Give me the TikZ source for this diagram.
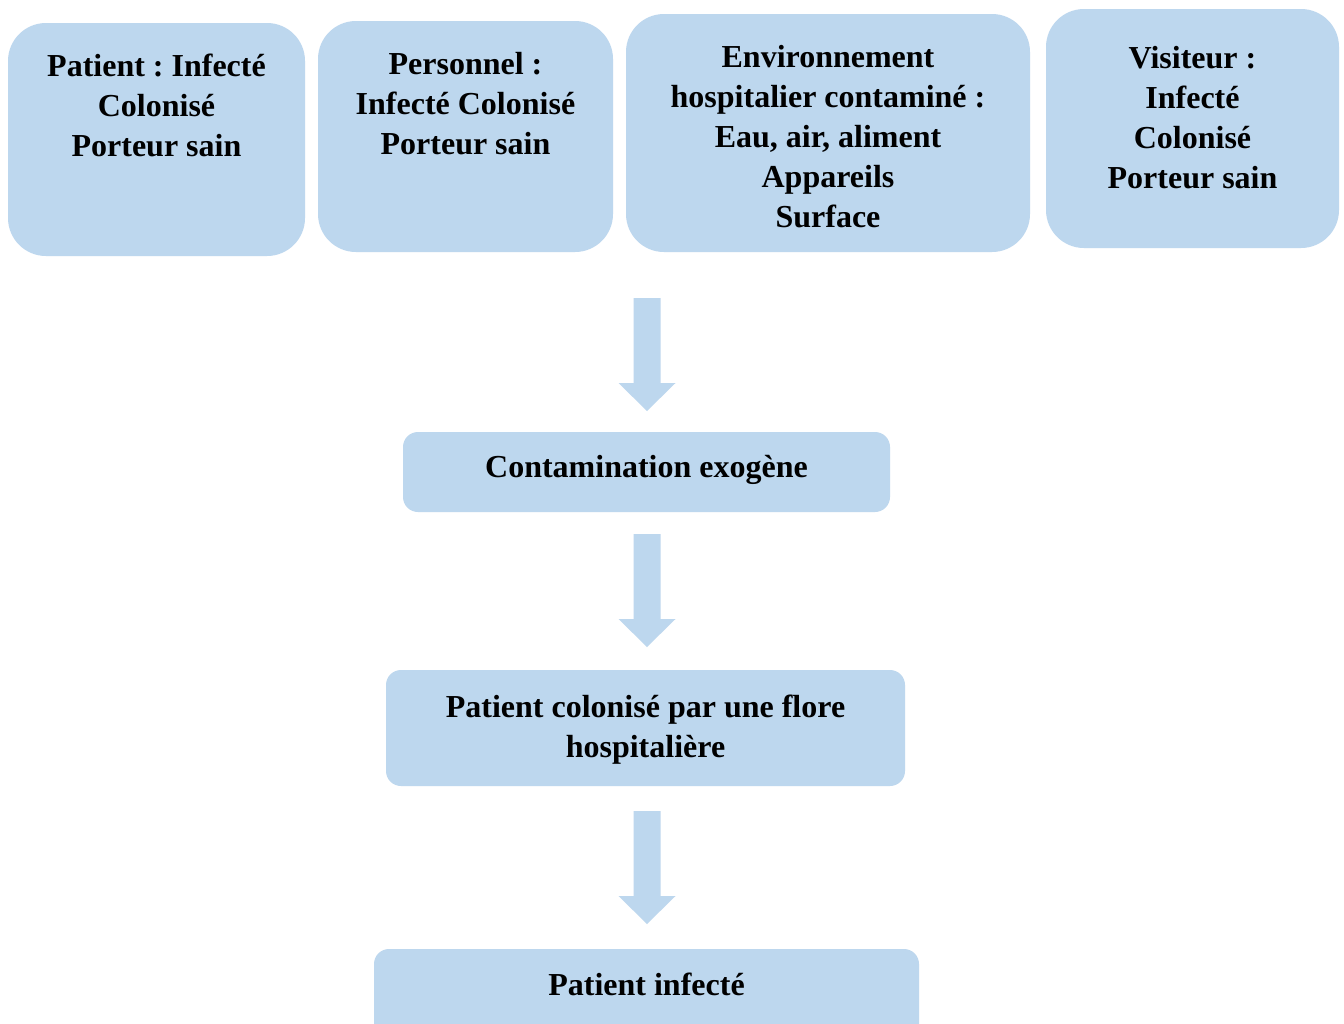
\documentclass[tikz,border=0pt]{standalone}
\usepackage{fontspec}
\setmainfont{Liberation Serif}
\definecolor{boxblue}{HTML}{BDD7EE}
\tikzset{
  topbox/.style={fill=boxblue, draw=none, rounded corners=38pt, inner sep=0pt},
  flowbox/.style={fill=boxblue, draw=none, rounded corners=15pt, inner sep=0pt},
  txt/.style={font=\bfseries\fontsize{32}{40}\selectfont\frenchspacing, align=center, inner sep=0pt},
  blockarrow/.style={fill=boxblue, draw=none}
}
\newcommand{\blockarrowat}[1]{%
  \fill[blockarrow] ([xshift=-13.5pt]#1) -- ([xshift=13.5pt]#1) -- ([xshift=13.5pt,yshift=-85pt]#1)
    -- ([xshift=28.5pt,yshift=-85pt]#1) -- ([yshift=-113pt]#1) -- ([xshift=-28.5pt,yshift=-85pt]#1)
    -- ([xshift=-13.5pt,yshift=-85pt]#1) -- cycle;}
\begin{document}
\begin{tikzpicture}[x=1pt,y=-1pt]
\clip (0,0) rectangle (1344,1023);
\fill[white] (0,0) rectangle (1344,1023);
% top boxes
\node[topbox, minimum width=297pt, minimum height=233pt] (b1) at (156.5,139.5) {};
\node[txt, anchor=north] (t1) at (156.5,54) {Patient : Infecté\\Colonisé\\Porteur sain};
\node[topbox, minimum width=295pt, minimum height=231pt] (b2) at (465.5,136.5) {};
\node[txt, anchor=north] (t2) at (465.5,52) {Personnel :\\Infecté Colonisé\\Porteur sain};
\node[topbox, minimum width=404pt, minimum height=238pt] (b3) at (828,133) {};
\node[txt, anchor=north] (t3) at (828,45) {Environnement\\hospitalier contaminé :\\Eau, air, aliment\\Appareils\\Surface};
\node[topbox, minimum width=293pt, minimum height=239pt] (b4) at (1192.5,128.5) {};
\node[txt, anchor=north] (t4) at (1192.5,46) {Visiteur :\\Infecté\\Colonisé\\Porteur sain};
% flow
\coordinate (a1) at (647,298);
\coordinate (a2) at (647,534);
\coordinate (a3) at (647,811);
\blockarrowat{a1}
\node[flowbox, minimum width=487pt, minimum height=80pt] (c1) at (646.5,472) {};
\node[txt] (tc1) at (646.5,470) {Contamination exogène};
\blockarrowat{a2}
\node[flowbox, minimum width=519pt, minimum height=116pt] (c2) at (645.5,728) {};
\node[txt] (tc2) at (645.5,730) {Patient colonisé par une flore\\hospitalière};
\blockarrowat{a3}
\node[flowbox, minimum width=545pt, minimum height=100pt] (c3) at (646.5,999) {};
\node[txt] (tc3) at (646.5,984) {Patient infecté};
\end{tikzpicture}
\end{document}
